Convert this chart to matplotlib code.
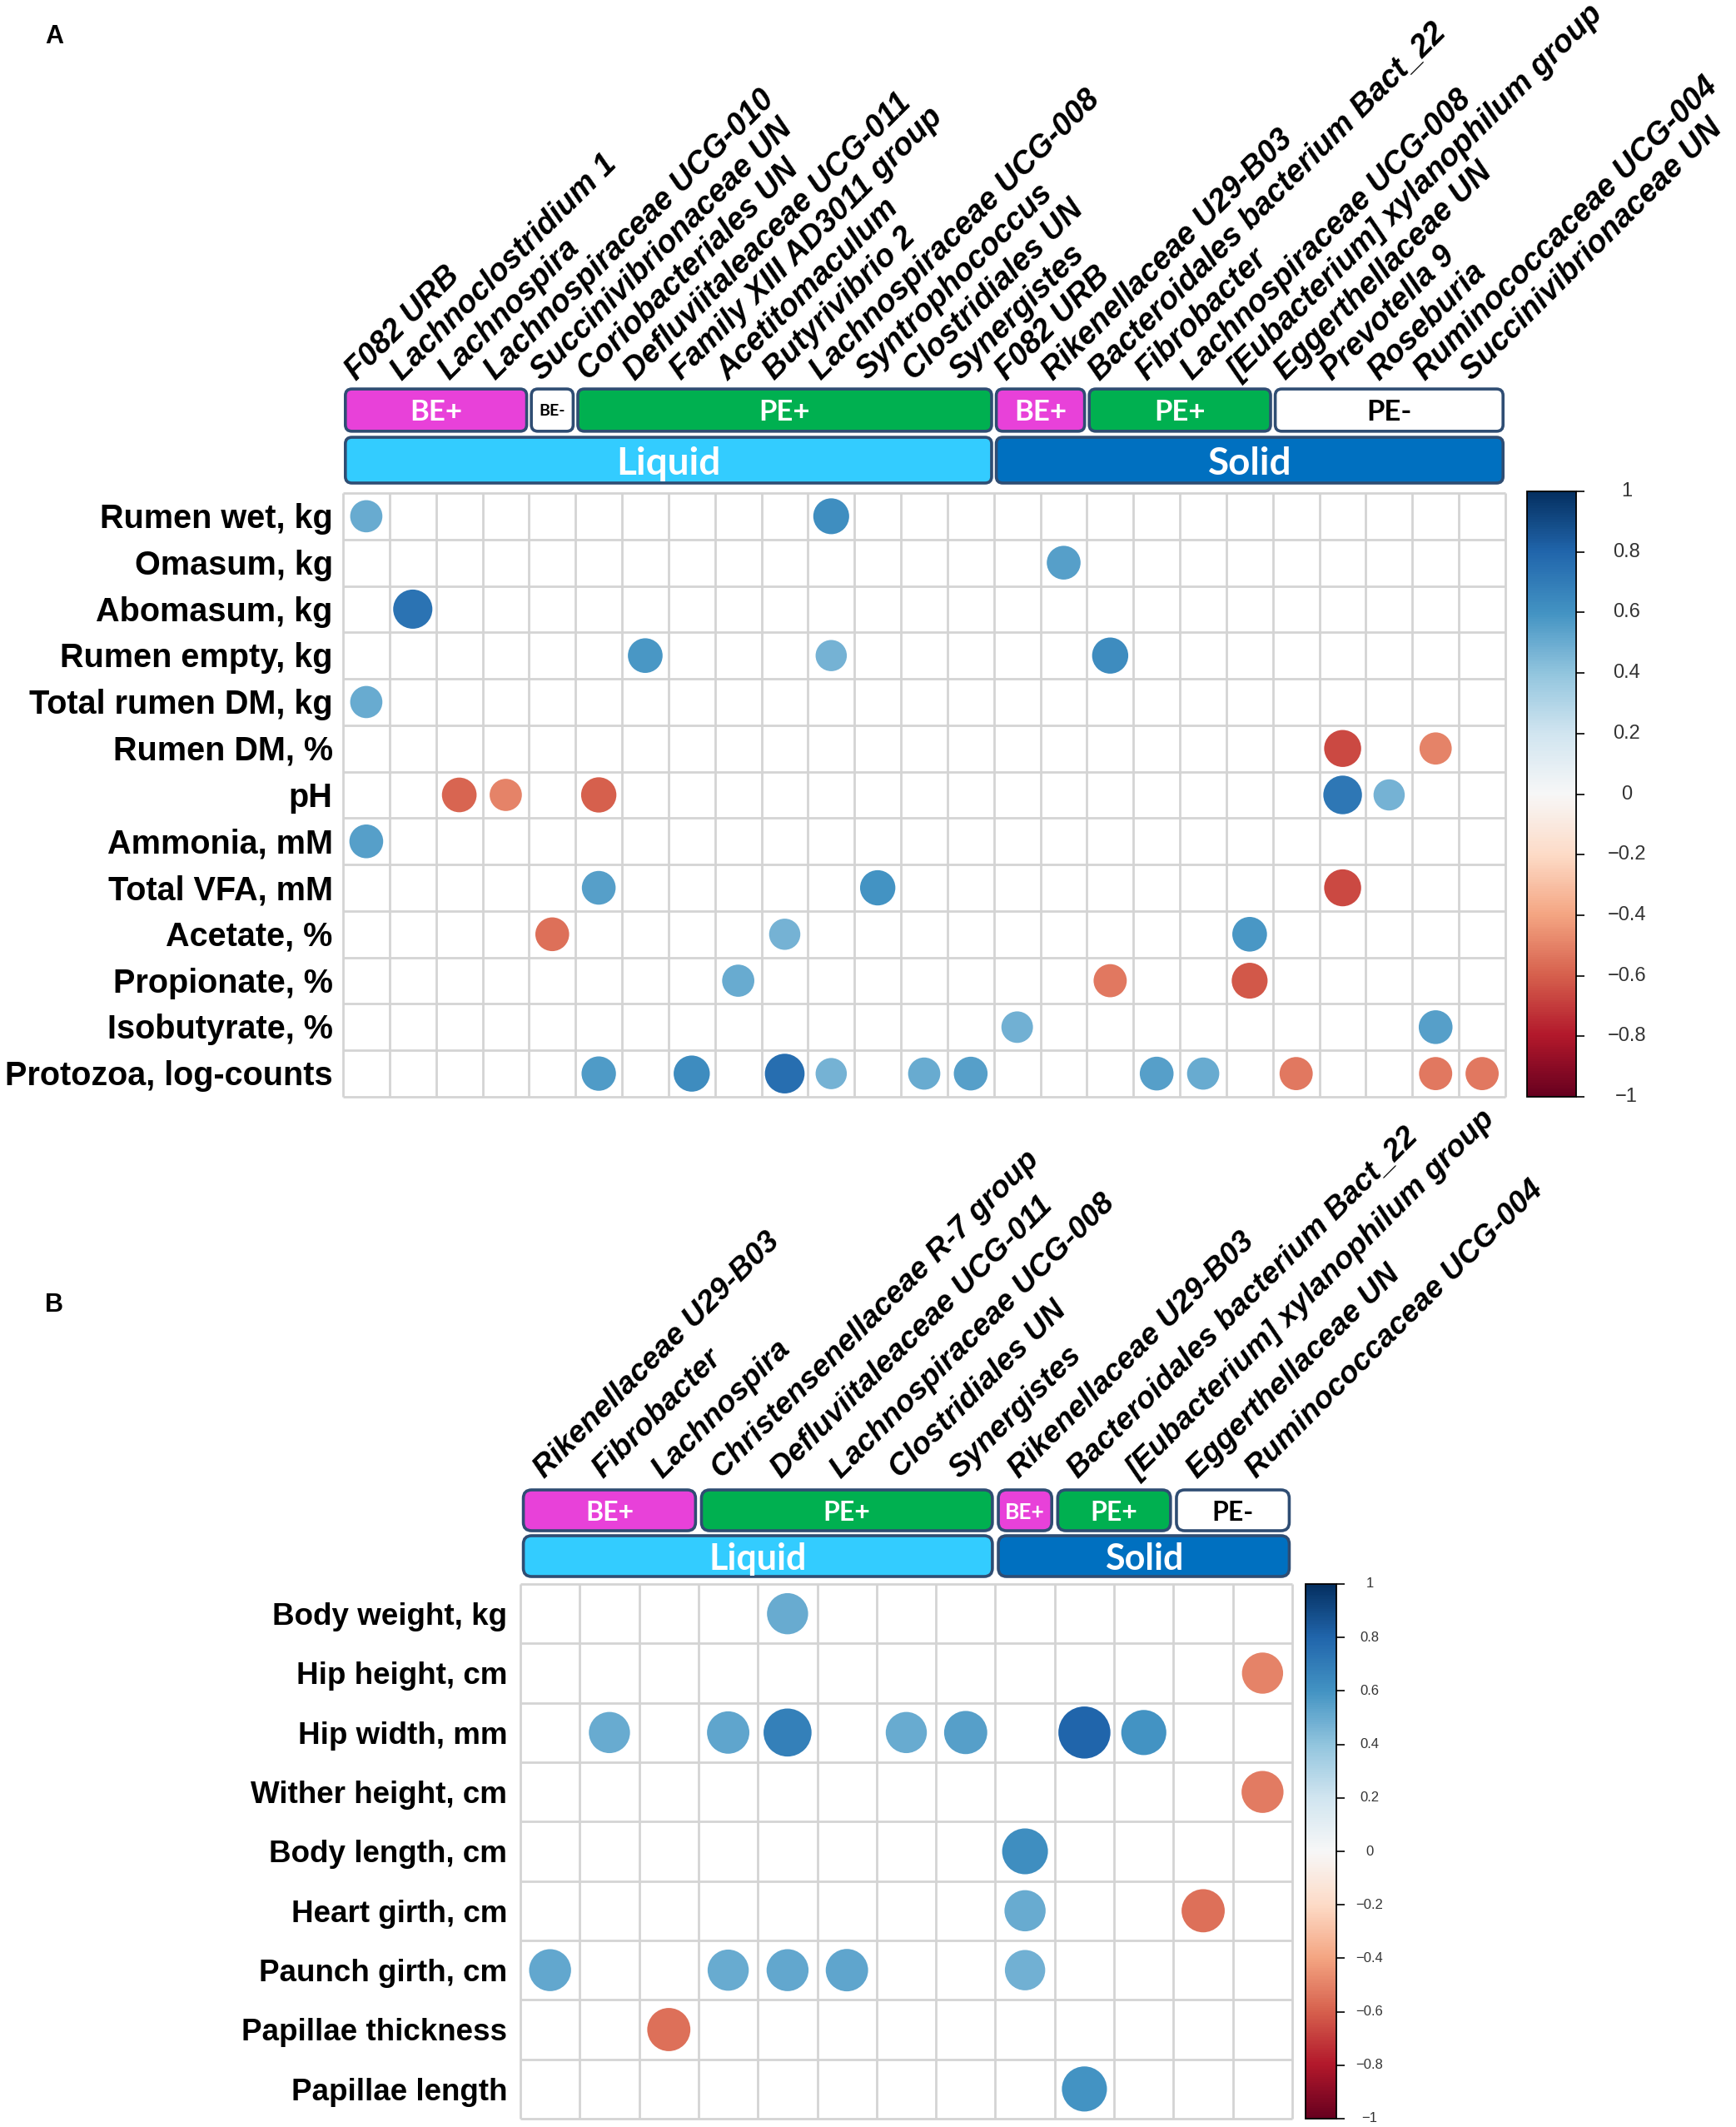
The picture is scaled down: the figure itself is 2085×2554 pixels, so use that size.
import numpy as np
import matplotlib
matplotlib.use("Agg")
import matplotlib.pyplot as plt
from matplotlib.patches import Circle, FancyBboxPatch
from matplotlib.colors import Normalize
import matplotlib.cm as cm
import matplotlib.transforms as mtransforms

W, H = 2085, 2554

# ---------------- data ----------------
a_rows = ["Rumen wet, kg", "Omasum, kg", "Abomasum, kg", "Rumen empty, kg",
          "Total rumen DM, kg", "Rumen DM, %", "pH", "Ammonia, mM",
          "Total VFA, mM", "Acetate, %", "Propionate, %", "Isobutyrate, %",
          "Protozoa, log-counts"]
a_cols = ["F082 URB", "Lachnoclostridium 1", "Lachnospira", "Lachnospiraceae UCG-010",
          "Succinivibrionaceae UN", "Coriobacteriales UN", "Defluviitaleaceae UCG-011",
          "Family XIII AD3011 group", "Acetitomaculum", "Butyrivibrio 2",
          "Lachnospiraceae UCG-008", "Syntrophococcus", "Clostridiales UN", "Synergistes",
          "F082 URB", "Rikenellaceae U29-B03", "Bacteroidales bacterium Bact_22",
          "Fibrobacter", "Lachnospiraceae UCG-008", "[Eubacterium] xylanophilum group",
          "Eggerthellaceae UN", "Prevotella 9", "Roseburia", "Ruminococcaceae UCG-004",
          "Succinivibrionaceae UN"]
# (row index, column index, correlation)
a_cells = [(0, 0, 0.50), (0, 10, 0.62),
           (1, 15, 0.55),
           (2, 1, 0.74),
           (3, 6, 0.58), (3, 10, 0.47), (3, 16, 0.63),
           (4, 0, 0.50),
           (5, 21, -0.66), (5, 23, -0.50),
           (6, 2, -0.58), (6, 3, -0.50), (6, 5, -0.60), (6, 21, 0.72), (6, 22, 0.47),
           (7, 0, 0.55),
           (8, 5, 0.55), (8, 11, 0.60), (8, 21, -0.66),
           (9, 4, -0.55), (9, 9, 0.47), (9, 19, 0.58),
           (10, 8, 0.50), (10, 16, -0.53), (10, 19, -0.62),
           (11, 14, 0.48), (11, 23, 0.55),
           (12, 5, 0.57), (12, 7, 0.63), (12, 9, 0.76), (12, 10, 0.47), (12, 12, 0.50),
           (12, 13, 0.55), (12, 17, 0.55), (12, 18, 0.50), (12, 20, -0.53),
           (12, 23, -0.53), (12, 24, -0.53)]
a_top_groups = [("BE+", 0, 4), ("BE-", 4, 5), ("PE+", 5, 14),
                ("BE+", 14, 16), ("PE+", 16, 20), ("PE-", 20, 25)]
a_bottom_groups = [("Liquid", 0, 14), ("Solid", 14, 25)]

b_rows = ["Body weight, kg", "Hip height, cm", "Hip width, mm", "Wither height, cm",
          "Body length, cm", "Heart girth, cm", "Paunch girth, cm",
          "Papillae thickness", "Papillae length"]
b_cols = ["Rikenellaceae U29-B03", "Fibrobacter", "Lachnospira",
          "Christensenellaceae R-7 group", "Defluviitaleaceae UCG-011",
          "Lachnospiraceae UCG-008", "Clostridiales UN", "Synergistes",
          "Rikenellaceae U29-B03", "Bacteroidales bacterium Bact_22",
          "[Eubacterium] xylanophilum group", "Eggerthellaceae UN",
          "Ruminococcaceae UCG-004"]
b_cells = [(0, 4, 0.50),
           (1, 12, -0.50),
           (2, 1, 0.50), (2, 3, 0.53), (2, 4, 0.68), (2, 6, 0.50), (2, 7, 0.55),
           (2, 9, 0.80), (2, 10, 0.60),
           (3, 12, -0.52),
           (4, 8, 0.62),
           (5, 8, 0.50), (5, 11, -0.55),
           (6, 0, 0.52), (6, 3, 0.50), (6, 4, 0.52), (6, 5, 0.53), (6, 8, 0.48),
           (7, 2, -0.55),
           (8, 9, 0.60)]
b_top_groups = [("BE+", 0, 3), ("PE+", 3, 8), ("BE+", 8, 9), ("PE+", 9, 11), ("PE-", 11, 13)]
b_bottom_groups = [("Liquid", 0, 8), ("Solid", 8, 13)]

cbar_ticks = [1, 0.8, 0.6, 0.4, 0.2, 0, -0.2, -0.4, -0.6, -0.8, -1]

# ---------------- style ----------------
LAB = "Liberation Sans"
BOXFONT = "Lato"
group_fill = {"BE+": "#E841D9", "BE-": "#FFFFFF", "PE+": "#00B050", "PE-": "#FFFFFF",
              "Liquid": "#33CCFF", "Solid": "#0070C0"}
group_text = {"BE+": "white", "BE-": "black", "PE+": "white", "PE-": "black",
              "Liquid": "white", "Solid": "white"}
EDGE = "#2F4D73"
GRID = "#D4D4D4"
cmap = plt.get_cmap("RdBu")
norm = Normalize(-1, 1)

fig = plt.figure(figsize=(W / 100, H / 100), dpi=100)


def px_axes(x0, y0, x1, y1):
    return fig.add_axes([x0 / W, 1 - y1 / H, (x1 - x0) / W, (y1 - y0) / H])


def fmt(v):
    s = f"{v:g}"
    return s.replace("-", "\u2212")


def draw_panel(grid_px, rows, cols, cells, top_groups, bottom_groups,
               top_band, bottom_band, row_fs, col_fs, col_dx, col_dy,
               top_fs, bottom_fs, small_fs, cbar_px, cbar_fs, cbar_label_x):
    x0, y0, x1, y1 = grid_px
    ax = px_axes(x0, y0, x1, y1)
    nr, nc = len(rows), len(cols)
    ax.set_xlim(0, nc)
    ax.set_ylim(nr, 0)
    ax.axis("off")
    cell_px = (x1 - x0) / nc

    for i in range(nc + 1):
        ax.plot([i, i], [0, nr], color=GRID, lw=2.0, clip_on=False, zorder=1,
                solid_capstyle="butt")
    for j in range(nr + 1):
        ax.plot([0, nc], [j, j], color=GRID, lw=2.0, clip_on=False, zorder=1,
                solid_capstyle="butt")

    mat = np.full((nr, nc), np.nan)
    for r, c, v in cells:
        mat[r, c] = v
    for (r, c), v in np.ndenumerate(mat):
        if np.isnan(v):
            continue
        ax.add_patch(Circle((c + 0.5, r + 0.5), radius=0.5 * 0.98 * np.sqrt(abs(v)),
                            facecolor=cmap(norm(v)), edgecolor="none", zorder=3))

    # row labels
    cap = 0.716 * row_fs * 100 / 72 / cell_px
    for r, name in enumerate(rows):
        ax.text(-0.22, r + 0.5 + cap / 2, name, ha="right", va="baseline",
                fontsize=row_fs, fontweight="bold", family=LAB, clip_on=False)

    # group boxes
    inset = 0.05
    for groups, (ya, yb), fs in ((top_groups, top_band, top_fs),
                                 (bottom_groups, bottom_band, bottom_fs)):
        for name, s, e in groups:
            ax.add_patch(FancyBboxPatch((s + inset, ya), (e - s) - 2 * inset, yb - ya,
                                        boxstyle="round,pad=0,rounding_size=0.14",
                                        facecolor=group_fill[name], edgecolor=EDGE,
                                        lw=2.6, clip_on=False, zorder=4))
            f = small_fs if (e - s) == 1 else fs
            ax.text((s + e) / 2, (ya + yb) / 2, name, ha="center", va="center_baseline",
                    fontsize=f, fontweight="bold", family=BOXFONT,
                    color=group_text[name], clip_on=False, zorder=5)

    # column labels
    ytop = top_band[0]
    for i, name in enumerate(cols):
        ax.text(i + 0.5 - col_dx, ytop - col_dy, name, rotation=45,
                rotation_mode="anchor", ha="left", va="baseline",
                fontsize=col_fs, fontweight="bold", fontstyle="italic",
                family=LAB, clip_on=False)

    # colorbar
    cax = px_axes(*cbar_px)
    sm = cm.ScalarMappable(norm=norm, cmap=cmap)
    cb = fig.colorbar(sm, cax=cax)
    cb.set_ticks(cbar_ticks)
    cax.yaxis.set_ticklabels([])
    cax.tick_params(axis="y", length=7, width=1.2, direction="out", right=True)
    cb.outline.set_linewidth(1.3)
    cb.outline.set_edgecolor("black")
    tr = mtransforms.blended_transform_factory(cax.transAxes, cax.transData)
    for t in cbar_ticks:
        cax.text(cbar_label_x, t, fmt(t), transform=tr, ha="center", va="center",
                 fontsize=cbar_fs, family=LAB, color="#333333")
    return ax


# Panel A
draw_panel(grid_px=(412, 592, 1808, 1317), rows=a_rows, cols=a_cols, cells=a_cells,
           top_groups=a_top_groups, bottom_groups=a_bottom_groups,
           top_band=(-2.24, -1.33), bottom_band=(-1.20, -0.215),
           row_fs=28.5, col_fs=27, col_dx=0.22, col_dy=0.17,
           top_fs=25, bottom_fs=33, small_fs=14,
           cbar_px=(1834, 590, 1893, 1317), cbar_fs=17, cbar_label_x=2.03)

# Panel B
draw_panel(grid_px=(625, 1902, 1552, 2544), rows=b_rows, cols=b_cols, cells=b_cells,
           top_groups=b_top_groups, bottom_groups=b_bottom_groups,
           top_band=(-1.584, -0.897), bottom_band=(-0.813, -0.126),
           row_fs=26.5, col_fs=26.5, col_dx=0.1, col_dy=0.18,
           top_fs=23, bottom_fs=31, small_fs=19,
           cbar_px=(1568, 1902, 1605, 2544), cbar_fs=12, cbar_label_x=2.08)

fig.text(65 / W, 1 - 44 / H, "A", fontsize=22, fontweight="bold", family=LAB,
         ha="center", va="center")
fig.text(65 / W, 1 - 1567 / H, "B", fontsize=22, fontweight="bold", family=LAB,
         ha="center", va="center")

fig.savefig("out.png", dpi=100, facecolor="white")
